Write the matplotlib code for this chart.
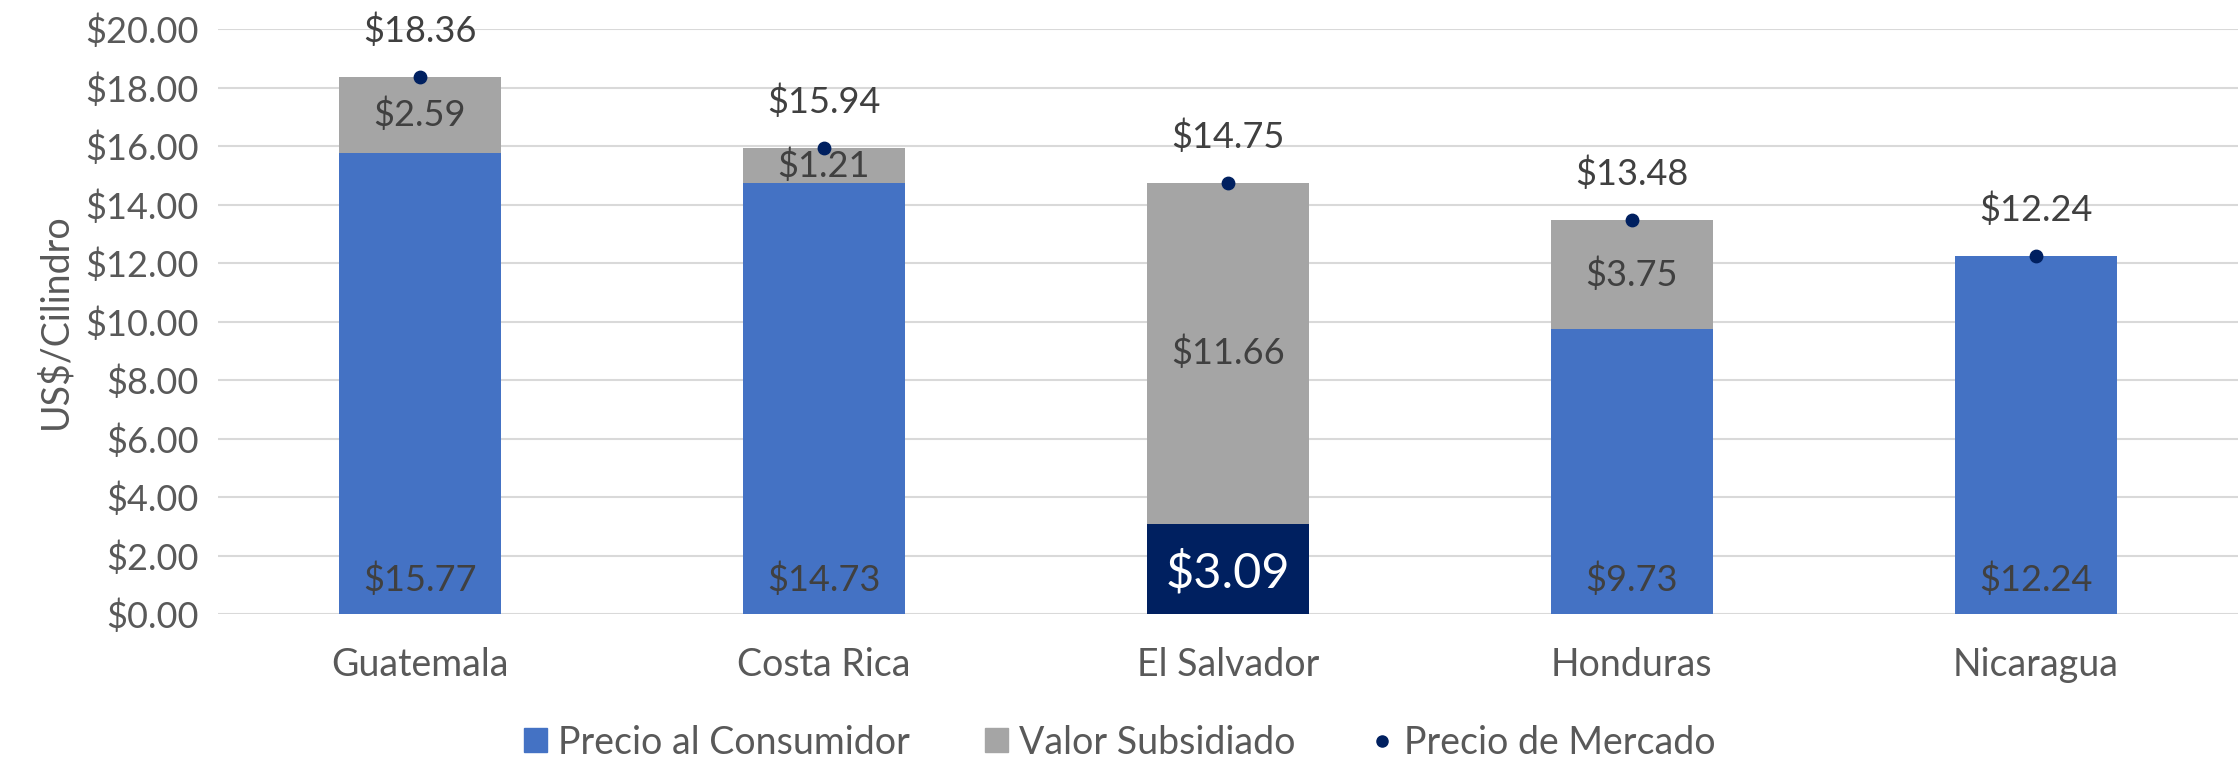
import matplotlib.pyplot as plt
from matplotlib.patches import Patch
from matplotlib.lines import Line2D

plt.rcParams['font.family'] = ['Lato', 'DejaVu Sans']

# data
countries = ['Guatemala', 'Costa Rica', 'El Salvador', 'Honduras', 'Nicaragua']
consumidor = [15.77, 14.73, 3.09, 9.73, 12.24]
subsidiado = [2.59, 1.21, 11.66, 3.75, 0.0]
mercado = [18.36, 15.94, 14.75, 13.48, 12.24]
yticks = [0, 2, 4, 6, 8, 10, 12, 14, 16, 18, 20]

blue = '#4472C4'
gray = '#A5A5A5'
navy = '#002060'
txt = '#404040'
tick_col = '#595959'

fig = plt.figure(figsize=(22.4, 7.64), dpi=100)
ax = fig.add_axes([0.0973, 0.1963, 0.9017, 0.7657])

x = list(range(len(countries)))
cons_colors = [navy if c == 'El Salvador' else blue for c in countries]
ax.bar(x, consumidor, width=0.4, color=cons_colors, zorder=2)
ax.bar(x, subsidiado, width=0.4, bottom=consumidor, color=gray, zorder=2)
ax.scatter(x, mercado, s=80, color=navy, zorder=3)

# labels for consumer price (inside base)
for i, v in enumerate(consumidor):
    if countries[i] == 'El Salvador':
        ax.annotate(f'${v:.2f}', (i, 0), xytext=(0, 30), textcoords='offset points',
                    ha='center', va='center', fontsize=35, color='white', zorder=4)
    else:
        ax.annotate(f'${v:.2f}', (i, 0), xytext=(0, 25), textcoords='offset points',
                    ha='center', va='center', fontsize=26, color=txt, zorder=4)

# labels for subsidy (centered)
for i, v in enumerate(subsidiado):
    if v > 0:
        ax.text(i, consumidor[i] + v / 2, f'${v:.2f}', ha='center', va='center',
                fontsize=26, color=txt, zorder=4)

# labels for market price (above)
for i, v in enumerate(mercado):
    ax.annotate(f'${v:.2f}', (i, v), xytext=(0, 33), textcoords='offset points',
                ha='center', va='center', fontsize=26, color=txt, zorder=4)

ax.set_xlim(-0.5, 4.5)
ax.set_ylim(0, 20)
ax.set_yticks(yticks)
ax.set_yticklabels([f'${t:.2f}' for t in yticks])
ax.set_xticks(x)
ax.set_xticklabels(countries)
ax.tick_params(axis='both', length=0, labelcolor=tick_col)
ax.tick_params(axis='x', pad=24, labelsize=27)
ax.tick_params(axis='y', pad=14, labelsize=26)
ax.grid(axis='y', color='#D9D9D9', linewidth=1.5, zorder=0)
for s in ax.spines.values():
    s.set_visible(False)
ax.set_ylabel('US$/Cilindro', fontsize=27, color=tick_col, labelpad=8)

handles = [Patch(color=blue, label='Precio al Consumidor'),
           Patch(color=gray, label='Valor Subsidiado'),
           Line2D([], [], marker='o', linestyle='none', markersize=8, color=navy,
                  label='Precio de Mercado')]
fig.legend(handles=handles, loc='center', bbox_to_anchor=(0.5, 0.028), ncol=3,
           frameon=False, fontsize=27, labelcolor=tick_col, handlelength=0.6,
           handleheight=0.6, handletextpad=0.3, columnspacing=2.0)

fig.savefig('out.png', dpi=100)
